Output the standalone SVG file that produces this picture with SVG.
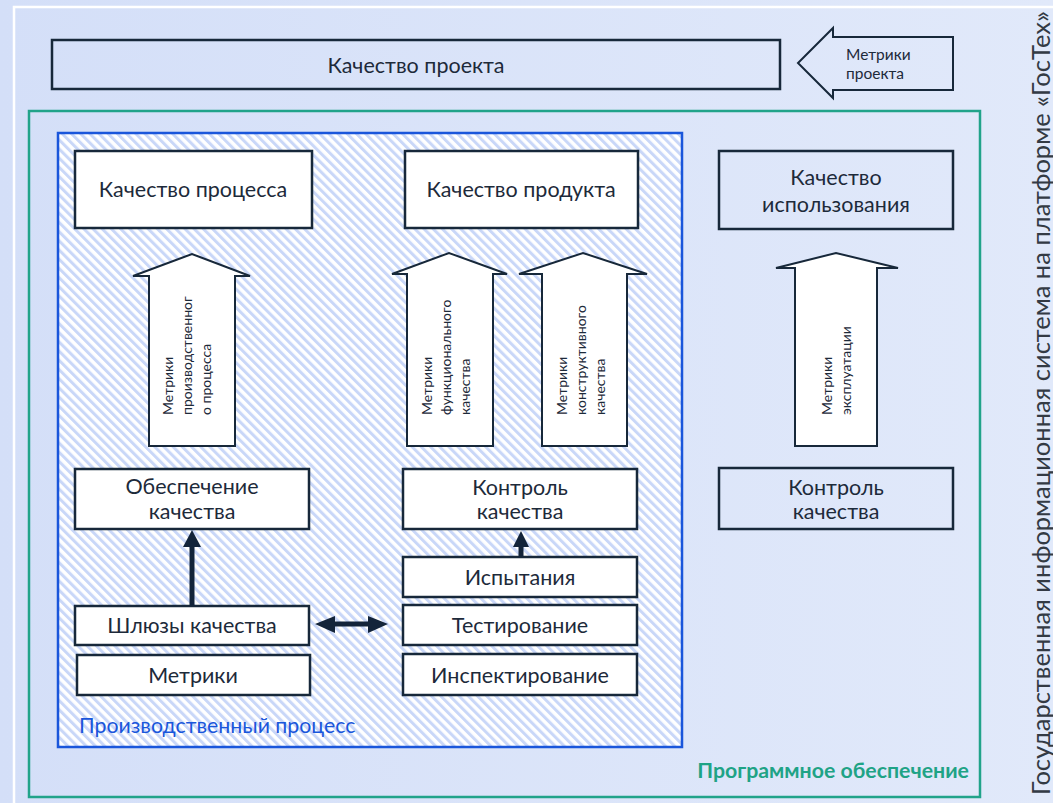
<svg xmlns="http://www.w3.org/2000/svg" width="1053" height="803" viewBox="0 0 1053 803">
<defs>
<linearGradient id="bg" x1="0" y1="0" x2="1" y2="0">
<stop offset="0" stop-color="#d4dff8"/>
<stop offset="1" stop-color="#e1e9fa"/>
</linearGradient>
<pattern id="hatch" patternUnits="userSpaceOnUse" width="6.5" height="20" patternTransform="rotate(-45)">
<rect width="6.5" height="20" fill="#ffffff"/>
<rect width="3" height="20" fill="#c9d7f8"/>
</pattern>
</defs>
<style>
text{font-family:Lato,"Noto Sans","Liberation Sans",sans-serif;fill:#1d2a3a}
.t{font-size:21.5px;text-anchor:middle}
.s{font-size:14px}
.box{fill:#ffffff;stroke:#17283a;stroke-width:2.5}
.obox{fill:none;stroke:#17283a;stroke-width:2.5}
.arr{fill:#ffffff;stroke:#17283a;stroke-width:2;stroke-linejoin:miter}
.conn{stroke:#13243a;stroke-width:5;fill:none}
.head{fill:#13243a}
</style>
<rect width="1053" height="803" fill="url(#bg)"/>
<rect x="14" y="7" width="1060" height="820" fill="none" stroke="#ffffff" stroke-width="2.5"/>

<g id="project-quality">
<rect x="52" y="40" width="728" height="49" class="obox"/>
<text class="t" x="416" y="73">Качество проекта</text>
</g>
<g id="project-metrics">
<path d="M953,37 L833,37 L833,28 L798,63 L833,98 L833,90 L953,90 Z" fill="none" stroke="#17283a" stroke-width="2"/>
<text x="846" y="60" font-size="15.5">Метрики</text>
<text x="846" y="79" font-size="15.5">проекта</text>
</g>

<g id="software">
<rect x="29" y="111" width="951" height="686" fill="none" stroke="#21a38a" stroke-width="2.5"/>
<text x="969" y="778" font-size="21.3" font-weight="bold" text-anchor="end" style="fill:#1fa386">Программное обеспечение</text>
</g>

<g id="production-process">
<rect x="58" y="133" width="624" height="614" fill="url(#hatch)" stroke="#1a56db" stroke-width="2.5"/>
<text x="79" y="733" font-size="21.3" style="fill:#1a56db">Производственный процесс</text>
</g>

<g id="process-quality">
<rect x="75" y="151" width="237" height="77" class="box"/>
<text class="t" x="193" y="197">Качество процесса</text>
</g>
<g id="product-quality">
<rect x="405" y="151" width="233" height="77" class="box"/>
<text class="t" x="521" y="197">Качество продукта</text>
</g>
<g id="usage-quality">
<rect x="719" y="151" width="234" height="78" class="obox"/>
<text class="t" x="836" y="185">Качество</text>
<text class="t" x="836" y="212">использования</text>
</g>

<g id="metrics-process">
<path d="M149,446 L149,276 L133,276 L192,254 L250,276 L235,276 L235,446 Z" class="arr"/>
<g transform="rotate(-90)">
<text class="s" x="-415" y="173">Метрики</text>
<text class="s" x="-415" y="192">производственног</text>
<text class="s" x="-415" y="211">о процесса</text>
</g>
</g>
<g id="metrics-functional">
<path d="M407,446 L407,274 L392,274 L449,253 L507,274 L493,274 L493,446 Z" class="arr"/>
<g transform="rotate(-90)">
<text class="s" x="-415" y="432">Метрики</text>
<text class="s" x="-415" y="451">функционального</text>
<text class="s" x="-415" y="470">качества</text>
</g>
</g>
<g id="metrics-constructive">
<path d="M542,446 L542,274 L519,274 L583,253 L647,274 L627,274 L627,446 Z" class="arr"/>
<g transform="rotate(-90)">
<text class="s" x="-415" y="567">Метрики</text>
<text class="s" x="-415" y="586">конструктивного</text>
<text class="s" x="-415" y="605">качества</text>
</g>
</g>
<g id="metrics-operation">
<path d="M795,446 L795,268 L776,268 L836,253 L898,268 L877,268 L877,446 Z" class="arr"/>
<g transform="rotate(-90)">
<text class="s" x="-415" y="832">Метрики</text>
<text class="s" x="-415" y="851">эксплуатации</text>
</g>
</g>

<g id="quality-assurance">
<rect x="75" y="469" width="234" height="60" class="box"/>
<text class="t" x="192" y="494">Обеспечение</text>
<text class="t" x="192" y="519">качества</text>
</g>
<g id="quality-gates">
<rect x="75" y="606" width="234" height="39" class="box"/>
<text class="t" x="192" y="633">Шлюзы качества</text>
</g>
<g id="metrics">
<rect x="77" y="655" width="233" height="40" class="box"/>
<text class="t" x="193" y="683">Метрики</text>
</g>

<g id="quality-control">
<rect x="403" y="469" width="234" height="60" class="box"/>
<text class="t" x="520" y="495">Контроль</text>
<text class="t" x="520" y="519">качества</text>
</g>
<g id="trials">
<rect x="403" y="557" width="234" height="40" class="box"/>
<text class="t" x="520" y="585">Испытания</text>
</g>
<g id="testing">
<rect x="403" y="605" width="234" height="40" class="box"/>
<text class="t" x="520" y="633">Тестирование</text>
</g>
<g id="inspection">
<rect x="403" y="654" width="234" height="41" class="box"/>
<text class="t" x="520" y="683">Инспектирование</text>
</g>

<g id="quality-control-ops">
<rect x="719" y="468" width="234" height="61" class="obox"/>
<text class="t" x="836" y="495">Контроль</text>
<text class="t" x="836" y="519">качества</text>
</g>

<g id="connectors">
<line x1="192" y1="606" x2="192" y2="546" class="conn"/>
<path d="M183,547 L192,530 L201,547 Z" class="head"/>
<line x1="521" y1="557" x2="521" y2="545" class="conn" stroke-width="4"/>
<path d="M513,547 L521,531 L529,547 Z" class="head"/>
<line x1="333" y1="624" x2="370" y2="624" class="conn"/>
<path d="M335,616 L315,624 L335,633 Z" class="head"/>
<path d="M368,616 L388,624 L368,633 Z" class="head"/>
</g>

<text transform="rotate(-90)" x="-403" y="1050" font-size="25.5" text-anchor="middle" style="fill:#333a44">Государственная информационная система на платформе «ГосТех»</text>
</svg>
